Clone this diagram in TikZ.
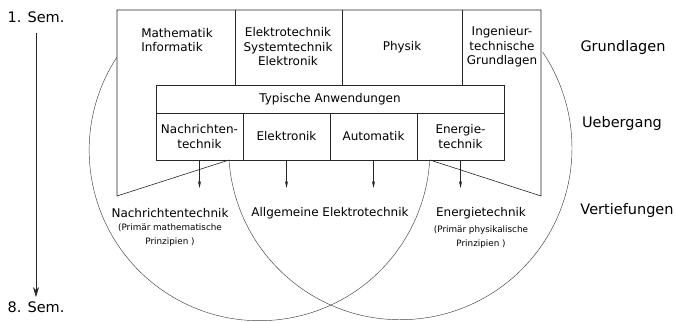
\documentclass[tikz,border=0pt]{standalone}
\usepackage{fontspec}
\setmainfont{DejaVu Sans}
\usepackage{tikz}
\usetikzlibrary{arrows.meta, positioning}

\begin{document}
\begin{tikzpicture}[
        x=1pt, y=-1pt,
        line width=0.6pt, draw=black!85,
        node distance=3pt,
        txt/.style={font=\fontsize{12}{14.5}\selectfont, align=center, inner sep=0pt},
        sub/.style={font=\fontsize{8.8}{14}\selectfont, align=center, inner sep=0pt},
        lbl/.style={font=\fontsize{14.5}{17}\selectfont, inner sep=0pt},
        cell/.style={draw, txt, minimum width=87pt, minimum height=47pt,
                     outer sep=0pt, anchor=north west},
        arr/.style={-{Stealth[length=7pt, width=3pt]}, line width=0.5pt},
        ring/.style={line width=0.45pt, draw=black!75},
      ]
        \useasboundingbox (0,0) rectangle (677,322);
        % Zeitachse
        \node[lbl] (sem1) at (36,17)  {1. Sem.};
        \node[lbl] (sem8) at (36,307) {8. Sem.};
        \coordinate (s1) at (36,33);
        \coordinate (s8) at (36,297);
        \draw[-{Stealth[length=10pt, width=6pt]}, line width=0.6pt] (s1) -- (s8);
        % Stufen
        \node[lbl] (grund) at (623,47)  {Grundlagen};
        \node[lbl] (ueber) at (622,123) {Uebergang};
        \node[lbl] (vert)  at (627,210) {Vertiefungen};
        % Grundlagenfaecher
        \coordinate (tl) at (117,10);
        \coordinate (tr) at (541,10);
        \coordinate (bl) at (117,196);
        \coordinate (br) at (541,196);
        \coordinate (d1) at (235,10);
        \coordinate (d2) at (342,10);
        \coordinate (d3) at (462,10);
        \node[txt, align=left] (mi) at (177,40)
          {Mathematik\\Informatik};
        \node[txt] (et) at (288,47)
          {Elektrotechnik\\Systemtechnik\\Elektronik};
        \node[txt] (ph) at (402,47) {Physik};
        \node[txt] (ig) at (502,47)
          {Ingenieur-\\technische\\Grundlagen};
        % Anwendungen
        \node[draw, txt, minimum width=348pt, minimum height=28pt,
              outer sep=0pt, anchor=north west] (anw) at (156,85)
          {Typische Anwendungen};
        \node[cell] (nt) at (anw.south west) {Nachrichten-\\technik};
        \node[cell] (el) at (nt.north east)  {Elektronik};
        \node[cell] (au) at (el.north east)  {Automatik};
        \node[cell] (en) at (au.north east)  {Energie-\\technik};
        \coordinate (kl) at (229,160);
        \coordinate (kr) at (430,160);
        \draw (kl) -- (bl) -- (tl) -- (tr) -- (br) -- (kr);
        \draw (d1) -- (d1 |- anw.north);
        \draw (d2) -- (d2 |- anw.north);
        \draw (d3) -- (d3 |- anw.north);
        \foreach \c in {nt, el, au, en}
          \draw[arr] (\c.south) -- ++(0,28);
        % Vertiefungen
        \node[txt] (vnt) at (170,213) {Nachrichtentechnik};
        \node[sub, below=6pt of vnt] {(Primär mathematische\\Prinzipien )};
        \node[txt] (vae) at (330,213) {Allgemeine Elektrotechnik};
        \node[txt] (ven) at (481,213) {Energietechnik};
        \node[sub, below=6pt of ven] {(Primär physikalische\\Prinzipien )};
        \coordinate (la) at (117,57);
        \draw[ring] (la) arc[start angle=213.2, end angle=3.3, radius=170.4];
        \draw[ring] (kl) arc[start angle=176, end angle=-34, radius=171.7];
      \end{tikzpicture}
\end{document}
